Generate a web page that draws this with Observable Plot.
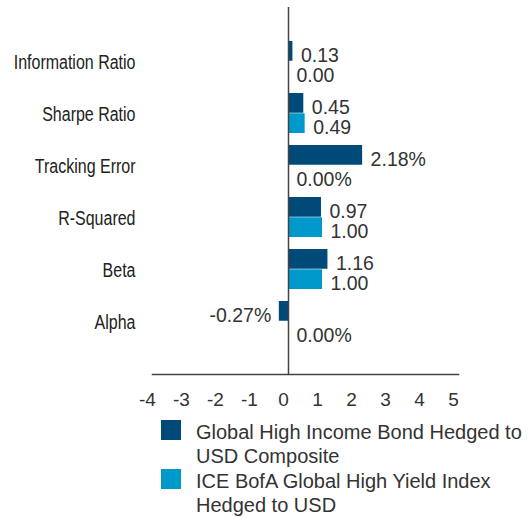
<!DOCTYPE html>
<html>
<head>
<meta charset="utf-8">
<script src="https://cdn.jsdelivr.net/npm/d3@7"></script>
<script src="https://cdn.jsdelivr.net/npm/@observablehq/plot@0.6"></script>
<style>
  html, body { margin: 0; padding: 0; background: #fff; }
  #chart { width: 529px; position: relative; }
  .legend { position: relative; margin-top: 8px; font-family: "Liberation Sans", Arial, sans-serif; font-size: 20px; line-height: 24px; color: #333; }
  .item { position: relative; height: 48px; margin-bottom: 1px; }
  .sw { position: absolute; left: 161px; top: 0; width: 20px; height: 20px; }
  .txt { position: absolute; left: 196px; top: 0; white-space: nowrap; }
</style>
</head>
<body>
<div id="chart"></div>
<script>
const categories = ["Information Ratio", "Sharpe Ratio", "Tracking Error", "R-Squared", "Beta", "Alpha"];
const fundValues = [0.13, 0.45, 2.18, 0.97, 1.16, -0.27];
const indexValues = [0.00, 0.49, 0.00, 1.00, 1.00, 0.00];
const fundLabels = ["0.13", "0.45", "2.18%", "0.97", "1.16", "-0.27%"];
const indexLabels = ["0.00", "0.49", "0.00%", "1.00", "1.00", "0.00%"];
const xTicks = [-4, -3, -2, -1, 0, 1, 2, 3, 4, 5];
const seriesNames = ["Global High Income Bond Hedged to\nUSD Composite", "ICE BofA Global High Yield Index\nHedged to USD"];
const colors = ["#004a7a", "#0099cc"];

const fund = categories.map((c, i) => ({category: c, value: fundValues[i], label: fundLabels[i]}));
const index = categories.map((c, i) => ({category: c, value: indexValues[i], label: indexLabels[i]}));

const pi = 0.233, po = 0.59;
const marginTop = 7, marginBottom = 38, height = 412;
const step = (height - marginTop - marginBottom) / (categories.length - pi + 2 * po);
const half = step * (1 - pi) / 2;

const plot = Plot.plot({
  width: 529,
  height,
  marginTop,
  marginBottom,
  marginLeft: 152,
  marginRight: 71,
  style: {fontFamily: "'Liberation Sans', Arial, sans-serif", fontSize: "19px", color: "#333", background: "#fff"},
  x: {domain: [-4, 5], label: null},
  y: {domain: categories, paddingInner: pi, paddingOuter: po, label: null},
  marks: [
    Plot.barX(fund, {x: "value", y: "category", fill: colors[0], insetBottom: half}),
    Plot.barX(index, {x: "value", y: "category", fill: colors[1], insetTop: half}),
    Plot.ruleX([0], {stroke: "#444", strokeWidth: 1.5}),
    Plot.frame({anchor: "bottom", stroke: "#444", strokeWidth: 1.5}),
    Plot.text(fund.filter(d => d.value >= 0), {x: "value", y: "category", text: "label", textAnchor: "start", dx: 8, dy: -half / 2 + 4, fontSize: 19.5, fill: "#333"}),
    Plot.text(fund.filter(d => d.value < 0), {x: "value", y: "category", text: "label", textAnchor: "end", dx: -8, dy: -half / 2 + 4, fontSize: 19.5, fill: "#333"}),
    Plot.text(index.filter(d => d.value >= 0), {x: "value", y: "category", text: "label", textAnchor: "start", dx: 8, dy: half / 2 + 4, fontSize: 19.5, fill: "#333"}),
    Plot.text(index.filter(d => d.value < 0), {x: "value", y: "category", text: "label", textAnchor: "end", dx: -8, dy: half / 2 + 4, fontSize: 19.5, fill: "#333"}),
    Plot.axisX({ticks: xTicks, tickFormat: d => String(d), tickSize: 0, tickPadding: 18, dx: -5, fontSize: 19, fill: "#333", label: null}),
    Plot.axisY({tickSize: 0, tickPadding: 17, dy: 1.5, fontSize: 19.5, fill: "#222", label: null, ariaLabel: "y-axis"})
  ]
});
document.getElementById("chart").appendChild(plot);

// narrow the category labels to match the condensed face of the reference
plot.querySelectorAll('g[aria-label="y-axis tick label"] text').forEach(t => {
  const w = t.getComputedTextLength();
  t.setAttribute("textLength", (w * 0.82).toFixed(1));
  t.setAttribute("lengthAdjust", "spacingAndGlyphs");
});

const legend = document.createElement("div");
legend.className = "legend";
seriesNames.forEach((name, i) => {
  const item = document.createElement("div");
  item.className = "item";
  const sw = document.createElement("div");
  sw.className = "sw";
  sw.style.background = colors[i];
  const txt = document.createElement("div");
  txt.className = "txt";
  name.split("\n").forEach((line, j) => {
    if (j) txt.appendChild(document.createElement("br"));
    txt.appendChild(document.createTextNode(line));
  });
  item.appendChild(sw);
  item.appendChild(txt);
  legend.appendChild(item);
});
document.getElementById("chart").appendChild(legend);
</script>
</body>
</html>
